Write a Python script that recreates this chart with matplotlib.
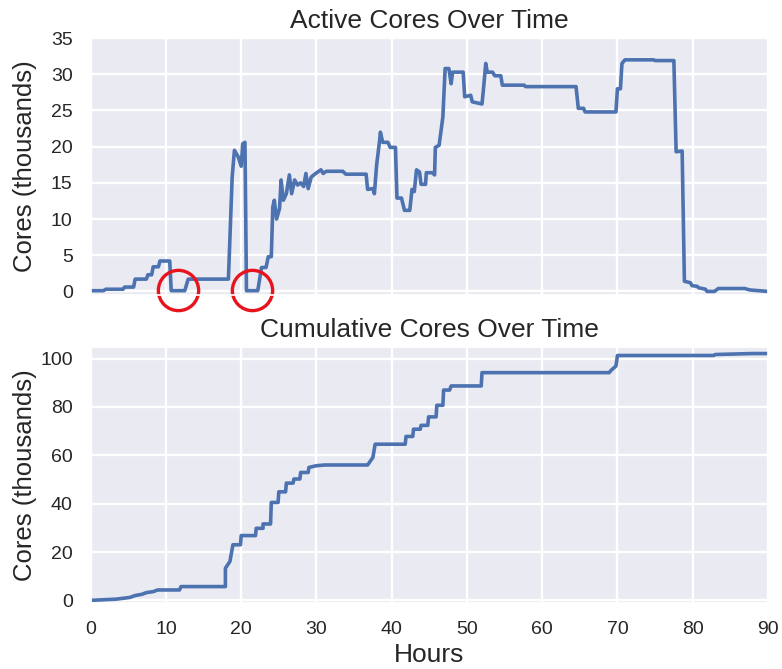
import numpy as np
import matplotlib
matplotlib.use("Agg")
import matplotlib.pyplot as plt
import seaborn as sns

sns.set_theme(style="darkgrid")
plt.rcParams['font.family'] = ['Liberation Sans', 'DejaVu Sans']
plt.rcParams['grid.linewidth'] = 1.7

# Active cores (thousands) vs hours
active_hours = [0, 1.7, 2.0, 4.3, 4.5, 5.7, 5.9, 7.4, 7.6, 8.1, 8.3, 9.0, 9.2, 10.5,
                10.7, 12.5, 12.95, 18.3, 18.8, 19.1, 19.6, 20.0, 20.2, 20.5, 20.7,
                22.2, 22.7, 23.3, 23.6, 24.0, 24.2, 24.4, 24.7, 25.1, 25.3, 25.6,
                26.0, 26.4, 26.7, 27.1, 27.5, 27.9, 28.3, 28.6, 28.9, 29.3, 29.9,
                30.6, 30.9, 31.3, 33.5, 33.9, 36.6, 36.8, 37.5, 37.7, 38.0, 38.4,
                38.5, 38.8, 39.5, 39.8, 40.5, 40.7, 41.3, 41.7, 42.4, 42.7, 43.0,
                43.3, 43.7, 43.9, 44.5, 44.6, 45.4, 45.7, 45.8, 46.3, 46.8, 47.1,
                47.6, 47.9, 48.1, 49.5, 49.7, 50.5, 50.7, 52.0, 52.2, 52.5, 52.7,
                53.4, 53.7, 54.5, 54.7, 57.6, 57.8, 64.5, 64.8, 65.5, 65.7, 69.8,
                70.0, 70.4, 70.6, 71.0, 74.8, 75.0, 77.5, 77.8, 78.6, 78.9, 79.7,
                79.9, 80.6, 80.8, 81.7, 81.9, 82.9, 83.4, 86.9, 87.6, 90.0]
active_cores = [0.1, 0.1, 0.3, 0.3, 0.6, 0.6, 1.7, 1.7, 2.3, 2.3, 3.4, 3.4, 4.2, 4.2,
                0.1, 0.1, 1.7, 1.7, 15.8, 19.5, 18.6, 17.3, 20.4, 20.6, 0.1,
                0.1, 3.3, 3.3, 4.8, 4.8, 11.7, 12.6, 10.0, 11.5, 15.4, 12.6,
                13.5, 16.1, 13.5, 15.4, 14.7, 15.0, 14.5, 16.3, 14.2, 15.8, 16.3,
                16.8, 16.3, 16.6, 16.6, 16.2, 16.2, 14.1, 14.2, 13.5, 17.5, 20.9,
                22.0, 20.6, 20.6, 19.9, 19.9, 12.9, 12.9, 11.2, 11.2, 14.1, 13.8,
                16.8, 16.5, 14.8, 14.8, 16.4, 16.4, 16.1, 19.9, 20.2, 24.1, 30.8,
                30.8, 28.7, 30.3, 30.3, 26.9, 27.1, 26.2, 25.9, 28.0, 31.5, 30.3,
                30.3, 29.8, 29.8, 28.5, 28.5, 28.3, 28.3, 25.3, 25.3, 24.8, 24.8,
                28.0, 28.0, 31.5, 32.0, 32.0, 31.9, 31.9, 19.3, 19.4, 1.4, 1.2,
                0.8, 0.7, 0.5, 0.3, 0.0, 0.0, 0.4, 0.4, 0.2, 0.0]

# Cumulative cores (thousands) vs hours
cum_hours = [0, 3.4, 5.2, 5.9, 6.8, 7.4, 8.3, 8.9, 11.8, 12.0, 17.9, 17.9, 18.5,
             18.9, 19.9, 20.0, 21.9, 22.0, 22.9, 22.9, 23.9, 24.0, 24.9, 25.0,
             25.9, 26.0, 26.9, 27.0, 27.8, 27.9, 28.9, 29.0, 30.0, 31.1, 36.8,
             37.5, 37.8, 41.8, 41.9, 42.8, 42.9, 43.8, 43.9, 44.8, 44.9, 45.9,
             46.0, 46.8, 46.9, 47.7, 47.9, 51.9, 52.0, 68.9, 69.2, 69.8, 70.0,
             82.8, 83.0, 87.9, 90.0]
cum_cores = [0, 0.5, 1.2, 2.0, 2.5, 3.2, 3.6, 4.3, 4.3, 5.7, 5.7, 13.3, 16.1,
             23.0, 23.0, 26.8, 26.8, 29.8, 29.8, 31.6, 31.6, 40.5, 40.5, 44.9,
             44.9, 48.5, 48.5, 50.2, 50.2, 52.9, 52.9, 55.0, 55.7, 56.0, 56.0,
             59.1, 64.6, 64.6, 67.8, 67.8, 70.8, 70.8, 72.4, 72.4, 75.9, 75.9,
             80.7, 80.7, 87.0, 87.0, 88.7, 88.7, 94.2, 94.2, 95.3, 96.9, 101.3,
             101.3, 101.7, 102.1, 102.1]

# hours where the active count drops to zero (circled in red)
gap_hours = [11.6, 21.5]
gap_cores = [0.2, 0.2]

blue = '#4C72B0'

fig = plt.figure(figsize=(7.82, 6.69), dpi=100)
ax1 = fig.add_axes([0.116, 0.559, 0.866, 0.384])
ax2 = fig.add_axes([0.116, 0.099, 0.866, 0.383])

ax1.plot(active_hours, active_cores, color=blue, lw=2.6)
ax1.plot(gap_hours, gap_cores, 'o', ms=29, mfc='none', mec='#E8141B',
         mew=2.4, clip_on=False)
ax1.set_xlim(0, 90)
ax1.set_ylim(-0.5, 35)
ax1.set_yticks(np.arange(0, 36, 5))
ax1.set_xticks(np.arange(0, 91, 10))
ax1.tick_params(labelbottom=False)
ax1.set_title('Active Cores Over Time', fontsize=19, pad=7)
ax1.set_ylabel('Cores (thousands)', fontsize=18.5)

ax2.plot(cum_hours, cum_cores, color=blue, lw=2.6)
ax2.set_xlim(0, 90)
ax2.set_ylim(-1, 105)
ax2.set_yticks(np.arange(0, 101, 20))
ax2.set_xticks(np.arange(0, 91, 10))
ax2.set_title('Cumulative Cores Over Time', fontsize=19, pad=7)
ax2.set_ylabel('Cores (thousands)', fontsize=18.5)
ax2.set_xlabel('Hours', fontsize=19)

for ax in (ax1, ax2):
    ax.tick_params(labelsize=14, pad=7)
    ax.yaxis.set_label_coords(-0.08, 0.5)

plt.savefig("out.png", dpi=100)
